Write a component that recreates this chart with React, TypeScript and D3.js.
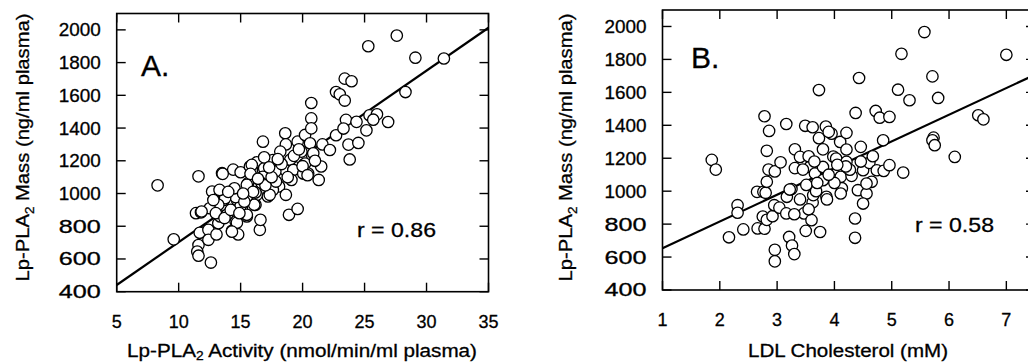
import React from "react";
import * as d3 from "d3";

// Panel A: Lp-PLA2 activity (nmol/min/ml) vs mass (ng/ml)
const activityMass: [number, number][] = [
  [8.3, 1050], [9.6, 720], [11.6, 1105], [11.4, 880], [11.8, 885], [11.7, 760], [11.6, 685],
  [11.5, 645], [11.6, 620], [12.6, 578], [12.4, 778], [12.4, 717], [13.05, 750], [12.7, 1012],
  [13.5, 1124], [13.35, 1012], [13.65, 961], [13.2, 818], [13.35, 860], [14.4, 1146], [15.0, 1130],
  [14.3, 772], [14.8, 750], [14.7, 961], [14.6, 828], [14.75, 982], [15.1, 911], [15.75, 1165],
  [15.6, 1063], [15.5, 860], [16.2, 931], [16.55, 778], [16.6, 839], [16.3, 1190], [16.8, 1317],
  [16.8, 1144], [16.95, 1073], [16.95, 1022], [17.2, 982], [17.5, 1144], [17.6, 1204], [18.1, 1043],
  [18.6, 1368], [18.65, 1300], [18.6, 1144], [18.65, 992], [18.9, 870], [19.6, 906], [19.0, 1206],
  [19.25, 1144], [19.6, 1317], [19.9, 1214], [20.2, 1358], [20.6, 1307], [20.7, 1459], [20.7, 1553],
  [20.7, 1398], [20.86, 1246], [20.1, 1175], [21.3, 1083], [21.5, 1165], [21.6, 1300], [22.2, 1266],
  [22.7, 1356], [22.7, 1620], [23.0, 1606], [23.4, 1702], [23.95, 1686], [23.4, 1568], [23.5, 1450],
  [23.3, 1397], [23.8, 1208], [23.7, 1299], [24.35, 1438], [27.6, 1965], [25.3, 1900], [29.1, 1830],
  [31.4, 1825], [28.3, 1620], [25.4, 1478], [26.0, 1484], [25.7, 1451], [26.9, 1437], [25.15, 1386],
  [24.5, 1309], [20.2, 1183], [20.05, 1122], [20.45, 1122], [13.55, 1120], [15.9, 1175], [16.9, 1154],
  [16.9, 1221], [18.2, 1256], [19.9, 1256], [19.1, 1083], [20.0, 1167], [20.4, 1112], [17.8, 1134],
  [17.2, 1083], [17.6, 1022], [17.35, 992], [16.8, 1102], [16.7, 1063], [16.3, 992], [16.1, 931],
  [15.5, 1053], [15.5, 870], [15.0, 925], [14.6, 978], [14.5, 1032], [14.7, 822], [14.3, 767],
  [13.9, 870], [13.75, 972], [13.3, 1022], [13.2, 931], [12.5, 910], [11.85, 890], [15.5, 982],
  [16.2, 1006], [17.85, 1073], [13.0, 880], [13.7, 850], [14.2, 900], [15.3, 950], [16.0, 1010],
  [17.0, 1050], [17.5, 1100], [18.3, 1180], [19.3, 1230], [14.0, 1010], [12.8, 960], [15.8, 1120],
  [17.3, 1160], [18.0, 1210], [16.4, 1090], [15.2, 1000], [14.9, 880], [18.8, 1100], [19.7, 1270],
  [21.0, 1200],
];

// Panel B: LDL cholesterol (mM) vs mass (ng/ml)
const ldlMass: [number, number][] = [
  [1.86, 1190], [1.93, 1131], [2.16, 720], [2.31, 915], [2.31, 869], [2.41, 768], [2.66, 774],
  [2.78, 772], [2.65, 996], [2.76, 996], [2.8, 990], [2.78, 1455], [2.86, 1366], [2.82, 1245],
  [2.85, 1131], [2.82, 1057], [2.75, 846], [2.82, 826], [2.92, 848], [2.95, 915], [2.96, 1120],
  [3.06, 1175], [2.96, 644], [2.96, 574], [3.04, 900], [3.16, 1408], [3.17, 966], [3.16, 865],
  [3.21, 722], [3.26, 670], [3.3, 618], [3.31, 1254], [3.31, 1140], [3.25, 1013], [3.4, 1208],
  [3.49, 1397], [3.62, 1388], [3.51, 1038], [3.5, 759], [3.47, 865], [3.57, 1147], [3.55, 1212],
  [3.73, 1614], [3.73, 1322], [3.75, 752], [3.6, 824], [3.62, 932], [3.63, 976], [3.66, 1107],
  [3.8, 1254], [3.8, 1147], [3.8, 1067], [3.85, 1392], [3.86, 966], [3.87, 950], [3.95, 1349],
  [3.98, 1210], [4.03, 1198], [4.1, 1299], [4.11, 1087], [4.13, 1018], [4.11, 986], [4.21, 1354],
  [4.21, 1253], [4.21, 1178], [4.3, 1093], [4.37, 1475], [4.43, 1687], [4.46, 1269], [4.41, 1006],
  [4.36, 834], [4.36, 717], [4.5, 1127], [4.56, 986], [4.5, 925], [4.61, 1172], [4.67, 1212],
  [4.72, 1487], [4.79, 1446], [4.65, 1057], [4.74, 1127], [4.85, 1309], [4.86, 1123], [4.96, 1451],
  [4.96, 1158], [5.2, 1113], [5.11, 1616], [5.17, 1834], [5.31, 1552], [5.57, 1966], [5.71, 1697],
  [5.81, 1566], [5.73, 1325], [5.71, 1309], [5.75, 1279], [6.1, 1208], [6.51, 1461], [6.6, 1436],
  [7.0, 1828], [4.56, 1046], [3.68, 1000], [3.9, 1360], [4.0, 1050], [4.27, 1130], [4.46, 1180],
  [3.4, 950], [3.7, 1050], [3.9, 1100], [3.55, 890], [3.3, 860], [4.2, 1150], [3.65, 1180],
  [4.05, 1160], [3.45, 1131], [3.22, 1010],
];

const yTicks = [400, 600, 800, 1000, 1200, 1400, 1600, 1800, 2000];
const xTicksA = [5, 10, 15, 20, 25, 30, 35];
const xTicksB = [1, 2, 3, 4, 5, 6, 7];

// regression lines: value at x0 and slope
const fitA = { x0: 5, y0: 441, slope: 52.4 };
const fitB = { x0: 1, y0: 654, slope: 162 };

const font = "'Liberation Sans', Arial, sans-serif";
const ink = { fill: "#000", stroke: "#000", strokeWidth: 0.3 };

type PanelProps = {
  data: [number, number][];
  xDomain: [number, number];
  xRange: [number, number];
  yRange: [number, number];
  xTicks: number[];
  fit: { x0: number; y0: number; slope: number };
  letter: string;
  letterPos: [number, number];
  rText: string;
  rPos: [number, number];
  xTitle: React.ReactNode;
  xTitleX: number;
  xTitleY: number;
  xTitleLen: number;
  yTitleX: number;
};

function Panel(p: PanelProps) {
  const x = d3.scaleLinear().domain(p.xDomain).range(p.xRange);
  const y = d3.scaleLinear().domain([400, 2100]).range(p.yRange);
  const [l, r] = p.xRange;
  const [b, t] = p.yRange;
  const tk = 9;
  const line = d3
    .line<number>()
    .x((d) => x(d))
    .y((d) => y(p.fit.y0 + p.fit.slope * (d - p.fit.x0)));
  return (
    <g fontFamily={font}>
      <path d={line(p.xDomain) || ""} stroke="#000" strokeWidth={2.2} fill="none" />
      {p.data.map((d, i) => (
        <circle key={i} cx={x(d[0])} cy={y(d[1])} r={5.7} fill="#fff" stroke="#000" strokeWidth={1.3} />
      ))}
      <rect x={l} y={t} width={r - l} height={b - t} fill="none" stroke="#000" strokeWidth={1.6} />
      {yTicks.map((v) => (
        <g key={v}>
          <line x1={l} x2={l + tk} y1={y(v)} y2={y(v)} stroke="#000" strokeWidth={1.4} />
          <line x1={r} x2={r - tk} y1={y(v)} y2={y(v)} stroke="#000" strokeWidth={1.4} />
          <text x={l - 16} y={y(v)} dy="0.36em" textAnchor="end" fontSize={18} textLength={42} lengthAdjust="spacingAndGlyphs" {...ink}>
            {v}
          </text>
        </g>
      ))}
      {p.xTicks.map((v) => (
        <g key={v}>
          <line x1={x(v)} x2={x(v)} y1={b} y2={b - tk} stroke="#000" strokeWidth={1.4} />
          <line x1={x(v)} x2={x(v)} y1={t} y2={t + tk} stroke="#000" strokeWidth={1.4} />
          <text x={x(v)} y={b + 36} textAnchor="middle" fontSize={18} {...ink}>
            {v}
          </text>
        </g>
      ))}
      <text x={p.letterPos[0]} y={p.letterPos[1]} fontSize={30} {...ink}>
        {p.letter}
      </text>
      <text x={p.rPos[0]} y={p.rPos[1]} fontSize={21} textLength={79} lengthAdjust="spacingAndGlyphs" {...ink}>
        {p.rText}
      </text>
      <text
        x={p.xTitleX}
        y={p.xTitleY}
        textAnchor="middle"
        fontSize={18}
        textLength={p.xTitleLen}
        lengthAdjust="spacingAndGlyphs"
        {...ink}
      >
        {p.xTitle}
      </text>
      <text
        transform={`translate(${p.yTitleX},${(13 + 282) / 2}) rotate(-90)`}
        textAnchor="middle"
        fontSize={18}
        textLength={268}
        lengthAdjust="spacingAndGlyphs"
        {...ink}
      >
        Lp-PLA<tspan fontSize={12} dy={5}>2</tspan>
        <tspan dy={-5}> Mass (ng/ml plasma)</tspan>
      </text>
    </g>
  );
}

export default function App() {
  return (
    <svg
      width={1028}
      height={363}
      style={{ position: "absolute", left: 0, top: 0, background: "#fff" }}
    >
      <Panel
        data={activityMass}
        xDomain={[5, 35]}
        xRange={[116.7, 488.5]}
        yRange={[291.7, 13.5]}
        xTicks={xTicksA}
        fit={fitA}
        letter="A."
        letterPos={[141, 76]}
        rText="r = 0.86"
        rPos={[357, 237]}
        xTitle={
          <>
            Lp-PLA<tspan fontSize={12} dy={3}>2</tspan>
            <tspan dy={-3}> Activity (nmol/min/ml plasma)</tspan>
          </>
        }
        xTitleX={302}
        xTitleY={357}
        xTitleLen={350}
        yTitleX={29}
      />
      <Panel
        data={ldlMass}
        xDomain={[1, 7.5]}
        xRange={[662.5, 1035]}
        yRange={[290, 10]}
        xTicks={xTicksB}
        fit={fitB}
        letter="B."
        letterPos={[691, 68]}
        rText="r = 0.58"
        rPos={[915, 232]}
        xTitle="LDL Cholesterol (mM)"
        xTitleX={848}
        xTitleY={357}
        xTitleLen={200}
        yTitleX={572}
      />
    </svg>
  );
}
